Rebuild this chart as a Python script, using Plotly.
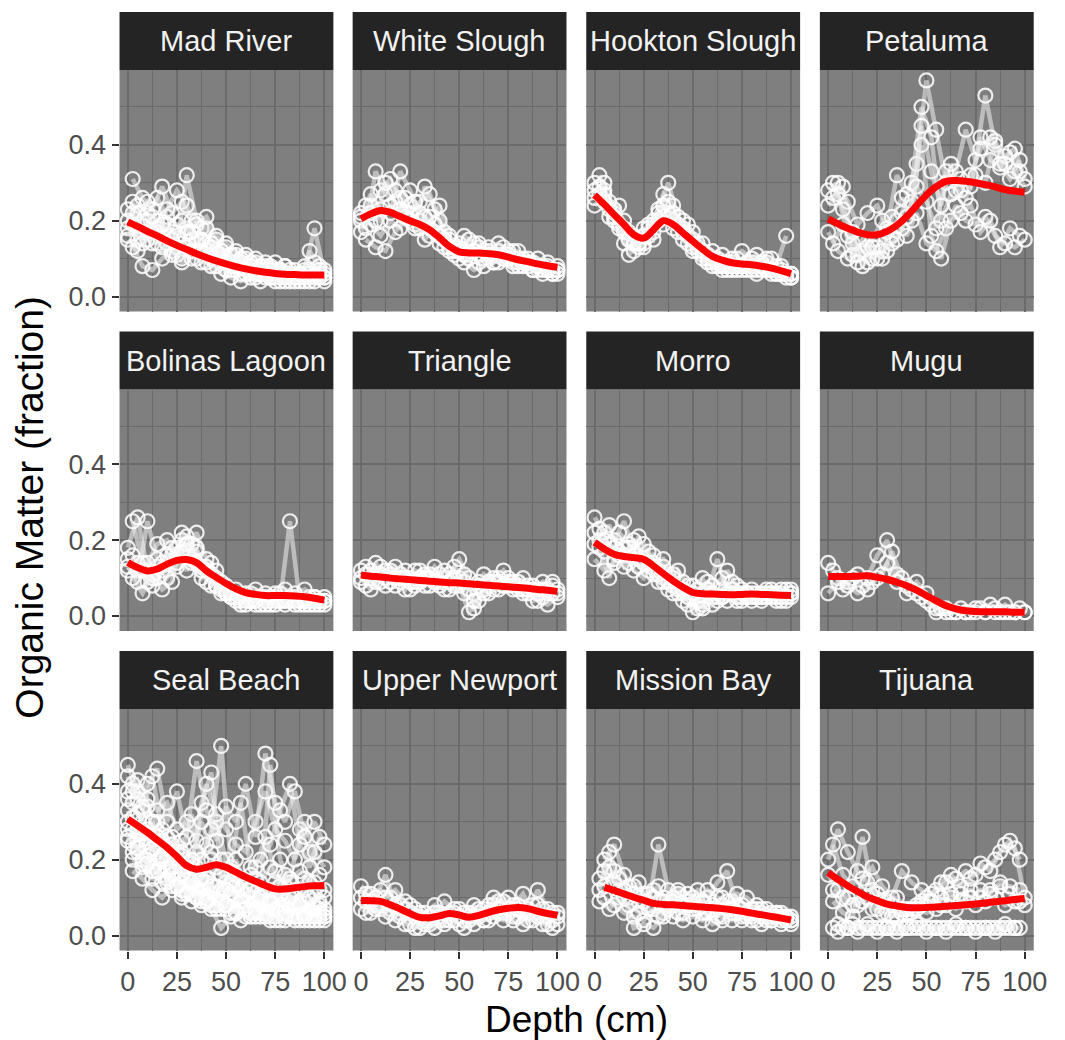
import plotly.graph_objects as go

# ---------------- data ----------------
SITES = ["Mad River", "White Slough", "Hookton Slough", "Petaluma",
         "Bolinas Lagoon", "Triangle", "Morro", "Mugu",
         "Seal Beach", "Upper Newport", "Mission Bay", "Tijuana"]

DEPTH_A = [0, 5, 10, 15, 20, 25, 30, 35, 40, 45, 50, 55, 60, 65, 70, 75, 80, 85, 90, 95, 100]
DEPTH_B = [2.5, 7.5, 12.5, 17.5, 22.5, 27.5, 32.5, 37.5, 42.5, 47.5,
           52.5, 57.5, 62.5, 67.5, 72.5, 77.5, 82.5, 87.5, 92.5, 97.5]
SMOOTH_X = DEPTH_A

# cores: lists of 21 values sit on DEPTH_A, lists of 20 values on DEPTH_B
MAD_RIVER = [
    [0.20, 0.24, 0.22, 0.26, 0.21, 0.19, 0.17, 0.15, 0.14, 0.12, 0.10, 0.09, 0.08, 0.07, 0.07, 0.06, 0.06, 0.05, 0.05, 0.06, 0.05],
    [0.31, 0.26, 0.23, 0.29, 0.22, 0.25, 0.20, 0.18, 0.13, 0.11, 0.09, 0.08, 0.07, 0.06, 0.05, 0.06, 0.05, 0.06, 0.07, 0.06],
    [0.15, 0.12, 0.17, 0.14, 0.16, 0.13, 0.32, 0.20, 0.18, 0.15, 0.13, 0.11, 0.10, 0.09, 0.08, 0.07, 0.08, 0.06, 0.07, 0.18, 0.06],
    [0.13, 0.08, 0.07, 0.10, 0.12, 0.09, 0.10, 0.12, 0.08, 0.06, 0.05, 0.04, 0.05, 0.04, 0.05, 0.04, 0.04, 0.05, 0.04, 0.05],
    [0.18, 0.22, 0.25, 0.20, 0.23, 0.28, 0.24, 0.19, 0.21, 0.16, 0.14, 0.12, 0.11, 0.10, 0.09, 0.09, 0.08, 0.07, 0.08, 0.09, 0.07],
    [0.22, 0.17, 0.14, 0.16, 0.11, 0.14, 0.15, 0.12, 0.10, 0.09, 0.07, 0.06, 0.06, 0.07, 0.05, 0.05, 0.06, 0.04, 0.12, 0.08],
    [0.16, 0.19, 0.15, 0.18, 0.14, 0.11, 0.13, 0.10, 0.09, 0.08, 0.07, 0.07, 0.06, 0.05, 0.06, 0.05, 0.05, 0.05, 0.04, 0.05, 0.05],
    [0.25, 0.20, 0.18, 0.13, 0.17, 0.10, 0.12, 0.09, 0.11, 0.10, 0.08, 0.09, 0.08, 0.06, 0.07, 0.07, 0.06, 0.06, 0.06, 0.07],
    [0.23, 0.15, 0.20, 0.17, 0.19, 0.16, 0.18, 0.14, 0.12, 0.11, 0.09, 0.08, 0.07, 0.06, 0.05, 0.04, 0.04, 0.04, 0.05, 0.04, 0.04],
    [0.19, 0.14, 0.21, 0.19, 0.15, 0.20, 0.17, 0.15, 0.14, 0.12, 0.11, 0.10, 0.09, 0.08, 0.08, 0.07, 0.07, 0.06, 0.05, 0.05],
]
WHITE_SLOUGH = [
    [0.20, 0.24, 0.28, 0.31, 0.26, 0.22, 0.25, 0.27, 0.20, 0.15, 0.14, 0.12, 0.13, 0.12, 0.11, 0.10, 0.10, 0.09, 0.08, 0.07, 0.07],
    [0.18, 0.33, 0.27, 0.25, 0.22, 0.19, 0.29, 0.23, 0.17, 0.13, 0.16, 0.14, 0.12, 0.11, 0.13, 0.12, 0.10, 0.09, 0.08, 0.06],
    [0.22, 0.19, 0.16, 0.20, 0.18, 0.24, 0.20, 0.16, 0.14, 0.12, 0.10, 0.11, 0.09, 0.10, 0.12, 0.11, 0.09, 0.08, 0.07, 0.08, 0.06],
    [0.15, 0.13, 0.12, 0.17, 0.21, 0.18, 0.15, 0.19, 0.13, 0.11, 0.09, 0.07, 0.08, 0.09, 0.10, 0.09, 0.08, 0.07, 0.06, 0.07],
    [0.21, 0.27, 0.23, 0.22, 0.33, 0.28, 0.22, 0.18, 0.24, 0.16, 0.13, 0.15, 0.14, 0.13, 0.14, 0.12, 0.12, 0.10, 0.10, 0.09, 0.08],
    [0.24, 0.20, 0.30, 0.28, 0.26, 0.25, 0.21, 0.17, 0.15, 0.12, 0.11, 0.12, 0.10, 0.09, 0.10, 0.08, 0.09, 0.07, 0.07, 0.06],
    [0.17, 0.22, 0.20, 0.24, 0.23, 0.20, 0.18, 0.21, 0.16, 0.13, 0.12, 0.10, 0.11, 0.11, 0.09, 0.10, 0.08, 0.09, 0.08, 0.07, 0.07],
]
HOOKTON_SLOUGH = [
    [0.30, 0.28, 0.22, 0.18, 0.15, 0.14, 0.20, 0.27, 0.24, 0.18, 0.15, 0.12, 0.10, 0.09, 0.09, 0.08, 0.09, 0.08, 0.07, 0.06, 0.05],
    [0.32, 0.25, 0.19, 0.17, 0.13, 0.16, 0.22, 0.30, 0.21, 0.16, 0.13, 0.11, 0.09, 0.08, 0.07, 0.08, 0.07, 0.10, 0.08, 0.16],
    [0.24, 0.27, 0.20, 0.14, 0.12, 0.13, 0.17, 0.19, 0.20, 0.15, 0.12, 0.10, 0.08, 0.07, 0.08, 0.07, 0.08, 0.07, 0.06, 0.07, 0.05],
    [0.27, 0.21, 0.24, 0.11, 0.14, 0.19, 0.23, 0.25, 0.17, 0.19, 0.14, 0.09, 0.10, 0.09, 0.10, 0.09, 0.11, 0.09, 0.06, 0.05],
    [0.26, 0.30, 0.23, 0.20, 0.16, 0.18, 0.15, 0.21, 0.18, 0.20, 0.17, 0.14, 0.12, 0.11, 0.10, 0.12, 0.10, 0.09, 0.10, 0.08, 0.06],
    [0.29, 0.23, 0.18, 0.15, 0.14, 0.18, 0.20, 0.22, 0.19, 0.14, 0.12, 0.10, 0.08, 0.07, 0.08, 0.07, 0.06, 0.07, 0.06, 0.06],
    [0.28, 0.25, 0.21, 0.17, 0.14, 0.16, 0.19, 0.24, 0.22, 0.17, 0.13, 0.11, 0.09, 0.08, 0.07, 0.08, 0.07, 0.08, 0.07, 0.06, 0.06],
]
PETALUMA = [
    [0.28, 0.30, 0.25, 0.19, 0.22, 0.24, 0.18, 0.32, 0.27, 0.35, 0.57, 0.44, 0.30, 0.33, 0.44, 0.36, 0.53, 0.40, 0.37, 0.39, 0.31],
    [0.26, 0.29, 0.14, 0.12, 0.15, 0.20, 0.16, 0.22, 0.30, 0.50, 0.42, 0.20, 0.27, 0.31, 0.29, 0.42, 0.36, 0.34, 0.38, 0.33],
    [0.17, 0.12, 0.10, 0.11, 0.09, 0.13, 0.17, 0.20, 0.16, 0.22, 0.14, 0.12, 0.18, 0.24, 0.20, 0.19, 0.21, 0.16, 0.14, 0.13, 0.15],
    [0.14, 0.19, 0.11, 0.15, 0.10, 0.12, 0.14, 0.18, 0.25, 0.40, 0.16, 0.10, 0.20, 0.22, 0.24, 0.17, 0.20, 0.13, 0.18, 0.16],
    [0.24, 0.27, 0.16, 0.09, 0.13, 0.10, 0.12, 0.15, 0.21, 0.29, 0.25, 0.18, 0.33, 0.28, 0.26, 0.32, 0.30, 0.41, 0.35, 0.33, 0.29],
    [0.30, 0.23, 0.17, 0.08, 0.13, 0.10, 0.21, 0.26, 0.20, 0.45, 0.33, 0.24, 0.35, 0.28, 0.32, 0.39, 0.42, 0.35, 0.31, 0.36],
]
BOLINAS_LAGOON = [
    [0.18, 0.26, 0.12, 0.10, 0.14, 0.18, 0.21, 0.17, 0.12, 0.08, 0.06, 0.05, 0.04, 0.04, 0.05, 0.04, 0.04, 0.05, 0.04, 0.05, 0.04],
    [0.25, 0.14, 0.08, 0.12, 0.16, 0.20, 0.15, 0.10, 0.14, 0.06, 0.05, 0.03, 0.04, 0.05, 0.03, 0.04, 0.25, 0.04, 0.05, 0.03],
    [0.13, 0.09, 0.25, 0.15, 0.10, 0.13, 0.17, 0.22, 0.15, 0.10, 0.07, 0.06, 0.05, 0.03, 0.04, 0.05, 0.03, 0.04, 0.03, 0.04, 0.05],
    [0.10, 0.06, 0.11, 0.07, 0.09, 0.22, 0.19, 0.13, 0.11, 0.09, 0.05, 0.04, 0.06, 0.05, 0.04, 0.06, 0.05, 0.04, 0.03, 0.04],
    [0.15, 0.12, 0.14, 0.19, 0.20, 0.16, 0.12, 0.18, 0.09, 0.12, 0.08, 0.07, 0.06, 0.07, 0.06, 0.06, 0.07, 0.06, 0.07, 0.05, 0.04],
    [0.16, 0.12, 0.10, 0.14, 0.18, 0.17, 0.14, 0.12, 0.08, 0.07, 0.06, 0.05, 0.04, 0.03, 0.05, 0.04, 0.04, 0.03, 0.04, 0.04],
    [0.12, 0.14, 0.09, 0.13, 0.16, 0.14, 0.19, 0.14, 0.13, 0.08, 0.06, 0.04, 0.03, 0.04, 0.03, 0.03, 0.04, 0.03, 0.04, 0.03, 0.03],
]
TRIANGLE = [
    [0.12, 0.10, 0.13, 0.11, 0.09, 0.10, 0.12, 0.10, 0.09, 0.11, 0.15, 0.10, 0.09, 0.08, 0.10, 0.09, 0.07, 0.08, 0.07, 0.06, 0.07],
    [0.08, 0.14, 0.10, 0.08, 0.12, 0.09, 0.08, 0.13, 0.10, 0.08, 0.06, 0.02, 0.07, 0.10, 0.12, 0.08, 0.06, 0.04, 0.05, 0.08],
    [0.10, 0.07, 0.09, 0.12, 0.10, 0.07, 0.09, 0.08, 0.11, 0.07, 0.08, 0.01, 0.04, 0.06, 0.07, 0.10, 0.08, 0.06, 0.04, 0.03, 0.05],
    [0.13, 0.11, 0.08, 0.10, 0.07, 0.12, 0.11, 0.09, 0.07, 0.13, 0.09, 0.06, 0.11, 0.09, 0.08, 0.07, 0.10, 0.07, 0.09, 0.06],
    [0.09, 0.12, 0.11, 0.09, 0.11, 0.09, 0.10, 0.11, 0.08, 0.09, 0.10, 0.07, 0.08, 0.09, 0.09, 0.08, 0.09, 0.07, 0.06, 0.07, 0.06],
    [0.11, 0.09, 0.12, 0.13, 0.10, 0.08, 0.10, 0.09, 0.12, 0.10, 0.11, 0.04, 0.06, 0.07, 0.08, 0.09, 0.07, 0.08, 0.07, 0.09],
]
MORRO = [
    [0.26, 0.22, 0.20, 0.25, 0.17, 0.15, 0.13, 0.10, 0.08, 0.06, 0.05, 0.04, 0.05, 0.07, 0.06, 0.05, 0.06, 0.05, 0.06, 0.05, 0.06],
    [0.20, 0.24, 0.17, 0.14, 0.21, 0.12, 0.09, 0.11, 0.07, 0.03, 0.02, 0.06, 0.15, 0.06, 0.04, 0.05, 0.06, 0.07, 0.05, 0.04],
    [0.15, 0.12, 0.14, 0.18, 0.12, 0.10, 0.16, 0.13, 0.06, 0.09, 0.01, 0.03, 0.08, 0.10, 0.06, 0.07, 0.05, 0.06, 0.07, 0.06, 0.05],
    [0.18, 0.10, 0.22, 0.19, 0.15, 0.17, 0.11, 0.07, 0.12, 0.08, 0.07, 0.09, 0.04, 0.12, 0.08, 0.06, 0.05, 0.06, 0.04, 0.07],
    [0.22, 0.17, 0.15, 0.16, 0.20, 0.19, 0.14, 0.15, 0.10, 0.04, 0.08, 0.10, 0.03, 0.05, 0.09, 0.04, 0.07, 0.04, 0.05, 0.07, 0.06],
    [0.23, 0.19, 0.16, 0.18, 0.13, 0.14, 0.12, 0.09, 0.06, 0.05, 0.04, 0.07, 0.05, 0.04, 0.05, 0.06, 0.05, 0.05, 0.06, 0.05],
    [0.19, 0.20, 0.18, 0.13, 0.16, 0.14, 0.11, 0.09, 0.11, 0.07, 0.06, 0.02, 0.06, 0.05, 0.07, 0.06, 0.04, 0.05, 0.06, 0.04, 0.07],
]
MUGU = [
    [0.14, 0.10, 0.09, 0.11, 0.10, 0.16, 0.20, 0.11, 0.08, 0.06, 0.04, 0.02, 0.01, 0.01, 0.01, 0.01, 0.01, 0.02, 0.01, 0.01, 0.01],
    [0.12, 0.07, 0.10, 0.08, 0.09, 0.11, 0.17, 0.10, 0.07, 0.05, 0.03, 0.02, 0.01, 0.02, 0.01, 0.02, 0.03, 0.01, 0.01, 0.02],
    [0.06, 0.09, 0.08, 0.06, 0.07, 0.10, 0.14, 0.09, 0.06, 0.09, 0.06, 0.01, 0.02, 0.01, 0.01, 0.02, 0.01, 0.01, 0.03, 0.01, 0.01],
]
SEAL_BEACH = [
    [0.45, 0.38, 0.34, 0.30, 0.26, 0.22, 0.20, 0.18, 0.24, 0.30, 0.20, 0.16, 0.14, 0.18, 0.26, 0.17, 0.13, 0.12, 0.15, 0.14, 0.12],
    [0.40, 0.33, 0.42, 0.28, 0.22, 0.25, 0.19, 0.35, 0.43, 0.16, 0.13, 0.12, 0.10, 0.11, 0.45, 0.20, 0.14, 0.28, 0.22, 0.16],
    [0.30, 0.28, 0.25, 0.22, 0.20, 0.17, 0.15, 0.13, 0.12, 0.11, 0.14, 0.10, 0.09, 0.08, 0.07, 0.09, 0.08, 0.06, 0.07, 0.06, 0.05],
    [0.35, 0.30, 0.27, 0.24, 0.20, 0.18, 0.16, 0.14, 0.20, 0.16, 0.14, 0.12, 0.10, 0.09, 0.12, 0.10, 0.08, 0.07, 0.06, 0.08],
    [0.25, 0.22, 0.20, 0.17, 0.15, 0.13, 0.12, 0.10, 0.09, 0.08, 0.07, 0.06, 0.05, 0.05, 0.06, 0.05, 0.04, 0.05, 0.04, 0.05, 0.04],
    [0.20, 0.18, 0.15, 0.14, 0.12, 0.10, 0.09, 0.08, 0.07, 0.02, 0.05, 0.04, 0.05, 0.06, 0.05, 0.04, 0.05, 0.04, 0.05, 0.04],
    [0.38, 0.41, 0.36, 0.33, 0.35, 0.28, 0.30, 0.25, 0.40, 0.32, 0.28, 0.24, 0.22, 0.30, 0.38, 0.28, 0.25, 0.20, 0.30, 0.22, 0.18],
    [0.28, 0.24, 0.30, 0.20, 0.26, 0.22, 0.32, 0.20, 0.28, 0.50, 0.18, 0.35, 0.18, 0.20, 0.24, 0.33, 0.40, 0.24, 0.18, 0.26],
    [0.33, 0.27, 0.22, 0.26, 0.18, 0.20, 0.16, 0.22, 0.14, 0.18, 0.12, 0.20, 0.13, 0.15, 0.12, 0.14, 0.16, 0.10, 0.12, 0.11, 0.10],
    [0.17, 0.15, 0.12, 0.10, 0.13, 0.11, 0.12, 0.09, 0.10, 0.07, 0.09, 0.08, 0.10, 0.07, 0.08, 0.06, 0.07, 0.09, 0.06, 0.07],
    [0.42, 0.36, 0.40, 0.44, 0.30, 0.38, 0.26, 0.46, 0.33, 0.25, 0.34, 0.30, 0.40, 0.26, 0.48, 0.35, 0.30, 0.38, 0.26, 0.30, 0.24],
    [0.22, 0.20, 0.18, 0.16, 0.15, 0.14, 0.13, 0.12, 0.11, 0.10, 0.10, 0.09, 0.08, 0.08, 0.07, 0.08, 0.07, 0.06, 0.07, 0.06],
    [0.28, 0.25, 0.21, 0.19, 0.17, 0.15, 0.13, 0.12, 0.10, 0.09, 0.08, 0.10, 0.09, 0.07, 0.06, 0.07, 0.06, 0.05, 0.06, 0.05, 0.06],
    [0.24, 0.19, 0.17, 0.20, 0.16, 0.12, 0.11, 0.10, 0.08, 0.09, 0.06, 0.07, 0.06, 0.05, 0.04, 0.06, 0.05, 0.05, 0.04, 0.05],
    [0.36, 0.32, 0.28, 0.26, 0.23, 0.20, 0.18, 0.16, 0.15, 0.13, 0.12, 0.13, 0.11, 0.10, 0.09, 0.10, 0.09, 0.08, 0.09, 0.08, 0.07],
    [0.31, 0.27, 0.23, 0.21, 0.18, 0.16, 0.14, 0.15, 0.13, 0.12, 0.11, 0.09, 0.12, 0.10, 0.09, 0.11, 0.10, 0.08, 0.10, 0.09],
    [0.26, 0.23, 0.19, 0.17, 0.14, 0.13, 0.11, 0.10, 0.09, 0.07, 0.08, 0.06, 0.07, 0.06, 0.05, 0.04, 0.05, 0.04, 0.05, 0.04, 0.05],
    [0.38, 0.34, 0.30, 0.25, 0.24, 0.21, 0.20, 0.30, 0.22, 0.20, 0.17, 0.15, 0.16, 0.14, 0.18, 0.13, 0.15, 0.17, 0.14, 0.12],
]
UPPER_NEWPORT = [
    [0.13, 0.11, 0.12, 0.10, 0.08, 0.06, 0.05, 0.04, 0.06, 0.05, 0.07, 0.05, 0.06, 0.08, 0.09, 0.10, 0.08, 0.07, 0.12, 0.07, 0.06],
    [0.09, 0.10, 0.16, 0.08, 0.07, 0.05, 0.06, 0.08, 0.04, 0.06, 0.04, 0.05, 0.07, 0.08, 0.06, 0.05, 0.06, 0.08, 0.05, 0.04],
    [0.07, 0.06, 0.08, 0.07, 0.05, 0.03, 0.02, 0.03, 0.04, 0.06, 0.03, 0.04, 0.05, 0.04, 0.06, 0.07, 0.05, 0.04, 0.05, 0.03, 0.03],
    [0.11, 0.08, 0.10, 0.12, 0.09, 0.07, 0.04, 0.06, 0.09, 0.07, 0.06, 0.08, 0.04, 0.10, 0.09, 0.08, 0.11, 0.06, 0.07, 0.06],
    [0.10, 0.09, 0.07, 0.06, 0.06, 0.08, 0.06, 0.05, 0.05, 0.04, 0.05, 0.06, 0.07, 0.06, 0.07, 0.06, 0.07, 0.06, 0.08, 0.05, 0.05],
    [0.06, 0.07, 0.05, 0.04, 0.03, 0.02, 0.03, 0.02, 0.03, 0.04, 0.02, 0.03, 0.04, 0.05, 0.04, 0.04, 0.03, 0.04, 0.03, 0.02],
]
MISSION_BAY = [
    [None, 0.20, 0.24, 0.16, 0.13, 0.11, 0.12, 0.10, 0.09, 0.10, 0.08, 0.09, 0.07, 0.08, 0.09, 0.07, 0.06, 0.07, 0.05, 0.06, 0.04],
    [0.15, 0.18, 0.12, 0.10, 0.14, 0.08, 0.24, 0.12, 0.11, 0.09, 0.12, 0.10, 0.14, 0.17, 0.08, 0.06, 0.07, 0.05, 0.06, 0.05],
    [None, 0.10, 0.08, 0.06, 0.05, 0.04, 0.07, 0.06, 0.05, 0.04, 0.05, 0.04, 0.06, 0.05, 0.04, 0.05, 0.04, 0.05, 0.04, 0.03, 0.04],
    [0.12, 0.22, 0.15, 0.13, 0.09, 0.11, 0.13, 0.08, 0.12, 0.11, 0.09, 0.12, 0.10, 0.09, 0.11, 0.10, 0.08, 0.07, 0.06, 0.05],
    [None, 0.13, 0.17, 0.10, 0.02, 0.03, 0.02, 0.05, 0.08, 0.06, 0.07, 0.06, 0.03, 0.04, 0.06, 0.04, 0.05, 0.03, 0.04, 0.04, 0.03],
    [0.09, 0.07, 0.10, 0.08, 0.06, 0.07, 0.05, 0.07, 0.06, 0.08, 0.07, 0.06, 0.05, 0.07, 0.06, 0.05, 0.04, 0.04, 0.05, 0.04],
    [None, 0.17, 0.14, 0.12, 0.11, 0.09, 0.10, 0.09, 0.10, 0.08, 0.10, 0.09, 0.08, 0.10, 0.07, 0.08, 0.07, 0.06, 0.06, 0.05, 0.05],
]
TIJUANA = [
    [0.20, 0.28, 0.22, 0.17, 0.14, 0.11, 0.09, 0.10, 0.07, 0.08, 0.10, 0.12, 0.14, 0.15, 0.17, 0.16, 0.18, 0.20, 0.24, 0.23, 0.10],
    [0.24, 0.16, 0.13, 0.26, 0.12, 0.09, 0.08, 0.07, 0.06, 0.09, 0.11, 0.14, 0.16, 0.13, 0.15, 0.19, 0.17, 0.22, 0.25, 0.20],
    [0.16, 0.12, 0.10, 0.08, 0.10, 0.07, 0.06, 0.05, 0.06, 0.07, 0.06, 0.07, 0.08, 0.07, 0.09, 0.08, 0.09, 0.10, 0.08, 0.09, 0.08],
    [0.09, 0.06, 0.05, 0.15, 0.18, 0.13, 0.10, 0.17, 0.14, 0.12, 0.09, 0.08, 0.10, 0.11, 0.12, 0.10, 0.12, 0.13, 0.11, 0.09],
    [None, 0.03, 0.02, 0.02, 0.02, 0.02, 0.02, 0.02, 0.02, 0.02, 0.02, 0.02, 0.02, 0.02, 0.02, 0.02, 0.02, 0.02, 0.02, 0.02, None],
    [0.02, 0.02, 0.03, 0.02, 0.02, 0.02, 0.02, 0.02, 0.02, 0.02, 0.02, 0.02, 0.02, 0.02, 0.02, 0.02, 0.02, 0.02, 0.02, 0.02],
    [None, 0.01, 0.02, 0.01, 0.03, 0.01, 0.02, 0.01, 0.02, 0.03, 0.01, 0.02, 0.01, 0.03, 0.02, 0.01, 0.02, 0.01, 0.03, 0.02, None],
    [0.12, 0.10, 0.08, 0.09, 0.07, 0.06, 0.05, 0.06, 0.07, 0.08, 0.09, 0.10, 0.11, 0.09, 0.10, 0.12, 0.11, 0.14, 0.13, 0.12],
]

# smoothed trend (red) at SMOOTH_X
MAD_RIVER_FIT = [0.197, 0.185, 0.172, 0.160, 0.147, 0.135, 0.124, 0.113, 0.103, 0.094, 0.086, 0.079, 0.073, 0.068, 0.064, 0.061, 0.059, 0.058, 0.057, 0.057, 0.057]
WHITE_SLOUGH_FIT = [0.205, 0.218, 0.227, 0.222, 0.211, 0.200, 0.190, 0.176, 0.155, 0.132, 0.118, 0.115, 0.115, 0.113, 0.110, 0.104, 0.097, 0.092, 0.086, 0.081, 0.077]
HOOKTON_SLOUGH_FIT = [0.268, 0.243, 0.216, 0.190, 0.163, 0.154, 0.176, 0.200, 0.190, 0.168, 0.146, 0.125, 0.106, 0.096, 0.089, 0.086, 0.084, 0.080, 0.075, 0.068, 0.060]
PETALUMA_FIT = [0.205, 0.192, 0.180, 0.170, 0.163, 0.163, 0.172, 0.188, 0.211, 0.240, 0.268, 0.290, 0.304, 0.306, 0.304, 0.300, 0.295, 0.289, 0.282, 0.278, 0.275]
BOLINAS_LAGOON_FIT = [0.141, 0.128, 0.119, 0.124, 0.137, 0.147, 0.149, 0.141, 0.119, 0.102, 0.086, 0.072, 0.062, 0.057, 0.054, 0.054, 0.054, 0.053, 0.051, 0.047, 0.042]
TRIANGLE_FIT = [0.108, 0.105, 0.103, 0.100, 0.098, 0.096, 0.094, 0.092, 0.090, 0.088, 0.087, 0.085, 0.083, 0.081, 0.079, 0.077, 0.075, 0.073, 0.070, 0.068, 0.065]
MORRO_FIT = [0.194, 0.177, 0.163, 0.157, 0.154, 0.150, 0.132, 0.112, 0.093, 0.076, 0.062, 0.059, 0.058, 0.057, 0.056, 0.057, 0.058, 0.057, 0.056, 0.055, 0.054]
MUGU_FIT = [0.104, 0.104, 0.104, 0.105, 0.106, 0.102, 0.097, 0.089, 0.080, 0.068, 0.054, 0.040, 0.027, 0.019, 0.014, 0.012, 0.011, 0.011, 0.011, 0.010, 0.010]
SEAL_BEACH_FIT = [0.307, 0.290, 0.272, 0.252, 0.232, 0.208, 0.184, 0.175, 0.180, 0.187, 0.180, 0.167, 0.154, 0.143, 0.132, 0.123, 0.123, 0.126, 0.129, 0.131, 0.132]
UPPER_NEWPORT_FIT = [0.092, 0.092, 0.090, 0.081, 0.070, 0.058, 0.048, 0.047, 0.052, 0.058, 0.054, 0.048, 0.053, 0.061, 0.068, 0.072, 0.074, 0.071, 0.064, 0.058, 0.053]
MISSION_BAY_FIT = [None, 0.127, 0.119, 0.110, 0.101, 0.093, 0.085, 0.082, 0.081, 0.079, 0.077, 0.075, 0.073, 0.071, 0.068, 0.064, 0.059, 0.055, 0.050, 0.046, 0.041]
TIJUANA_FIT = [0.166, 0.148, 0.131, 0.116, 0.102, 0.092, 0.083, 0.078, 0.074, 0.073, 0.074, 0.075, 0.077, 0.079, 0.081, 0.083, 0.086, 0.089, 0.092, 0.095, 0.098]

X_TICKS = [0, 25, 50, 75, 100]
X_TICK_LABELS = ["0", "25", "50", "75", "100"]
Y_TICKS = [0.0, 0.2, 0.4]
Y_TICK_LABELS = ["0.0", "0.2", "0.4"]

CORES = [MAD_RIVER, WHITE_SLOUGH, HOOKTON_SLOUGH, PETALUMA, BOLINAS_LAGOON, TRIANGLE,
         MORRO, MUGU, SEAL_BEACH, UPPER_NEWPORT, MISSION_BAY, TIJUANA]
FITS = [MAD_RIVER_FIT, WHITE_SLOUGH_FIT, HOOKTON_SLOUGH_FIT, PETALUMA_FIT, BOLINAS_LAGOON_FIT,
        TRIANGLE_FIT, MORRO_FIT, MUGU_FIT, SEAL_BEACH_FIT, UPPER_NEWPORT_FIT, MISSION_BAY_FIT, TIJUANA_FIT]

# ---------------- layout geometry ----------------
W, H = 1065, 1040
COL_LEFT = [121, 357, 593.5, 830]
PANEL_W = 216.5
STRIP_TOP = [12, 331.5, 651]
STRIP_H = 58
PANEL_H = 241.5

X_RANGE = [-4.2, 104.6]
Y_RANGE = [-0.0395, 0.5975]

GRID = "#6b6b6b"
FONT = "Liberation Sans, Arial, sans-serif"

fig = go.Figure()
layout = dict(
    width=W, height=H,
    margin=dict(l=0, r=0, t=0, b=0),
    paper_bgcolor="white",
    plot_bgcolor="#7f7f7f",
    showlegend=False,
    font=dict(family=FONT),
    shapes=[], annotations=[],
)

for i, site in enumerate(SITES):
    r, c = divmod(i, 4)
    k = i + 1
    xa = "x" if k == 1 else f"x{k}"
    ya = "y" if k == 1 else f"y{k}"
    x0 = COL_LEFT[c]
    ptop = STRIP_TOP[r] + STRIP_H
    pbot = ptop + PANEL_H

    layout[f"xaxis{k}"] = dict(
        domain=[x0 / W, (x0 + PANEL_W) / W], anchor=ya, range=X_RANGE,
        tickvals=X_TICKS, ticktext=X_TICK_LABELS,
        showgrid=True, gridcolor=GRID, gridwidth=1.6, zeroline=False, showline=False,
        minor=dict(tickvals=[12.5, 37.5, 62.5, 87.5], showgrid=True, gridcolor=GRID, gridwidth=0.9),
        showticklabels=(r == 2), ticks="outside" if r == 2 else "",
        ticklen=7, tickwidth=1.5, tickcolor="#333333",
        tickfont=dict(size=27, color="#4d4d4d", family=FONT),
    )
    layout[f"yaxis{k}"] = dict(
        domain=[1 - pbot / H, 1 - ptop / H], anchor=xa, range=Y_RANGE,
        tickvals=Y_TICKS, ticktext=Y_TICK_LABELS,
        showgrid=True, gridcolor=GRID, gridwidth=1.6, zeroline=False, showline=False,
        minor=dict(tickvals=[0.1, 0.3, 0.5], showgrid=True, gridcolor=GRID, gridwidth=0.9),
        showticklabels=(c == 0), ticks="outside" if c == 0 else "",
        ticklen=7, tickwidth=1.5, tickcolor="#333333",
        tickfont=dict(size=27, color="#4d4d4d", family=FONT),
    )

    # strip
    layout["shapes"].append(dict(
        type="rect", xref="paper", yref="paper",
        x0=x0 / W, x1=(x0 + PANEL_W) / W,
        y0=1 - (STRIP_TOP[r] + STRIP_H) / H, y1=1 - STRIP_TOP[r] / H,
        fillcolor="#242424", line=dict(width=0), layer="above",
    ))
    layout["annotations"].append(dict(
        text=site, xref="paper", yref="paper",
        x=(x0 + PANEL_W / 2) / W, y=1 - (STRIP_TOP[r] + STRIP_H / 2) / H,
        xanchor="center", yanchor="middle", showarrow=False,
        font=dict(size=29, color="#f2f2f2", family=FONT),
    ))

    # cores
    for j, core in enumerate(CORES[i]):
        xs = DEPTH_A if len(core) == len(DEPTH_A) else DEPTH_B
        fig.add_trace(go.Scatter(
            x=xs, y=core, xaxis=xa, yaxis=ya, mode="lines+markers",
            line=dict(color="rgba(240,240,240,0.55)", width=4.5),
            marker=dict(symbol="circle-open", size=14, color="rgba(255,255,255,0.85)",
                        line=dict(width=2.2)),
            hoverinfo="skip", connectgaps=False,
        ))
    # smooth
    fig.add_trace(go.Scatter(
        x=SMOOTH_X, y=FITS[i], xaxis=xa, yaxis=ya, mode="lines",
        line=dict(color="#ff0000", width=7, shape="spline"),
        hoverinfo="skip",
    ))

layout["annotations"].append(dict(
    text="Depth (cm)", xref="paper", yref="paper",
    x=583.75 / W, y=1 - 1019 / H, xanchor="center", yanchor="middle",
    showarrow=False, font=dict(size=37, color="black", family=FONT),
))
layout["annotations"].append(dict(
    text="Organic Matter (fraction)", xref="paper", yref="paper",
    x=29 / W, y=1 - 507 / H, xanchor="center", yanchor="middle", textangle=-90,
    showarrow=False, font=dict(size=39, color="black", family=FONT),
))

fig.update_layout(**layout)
fig.write_html("out.html")
